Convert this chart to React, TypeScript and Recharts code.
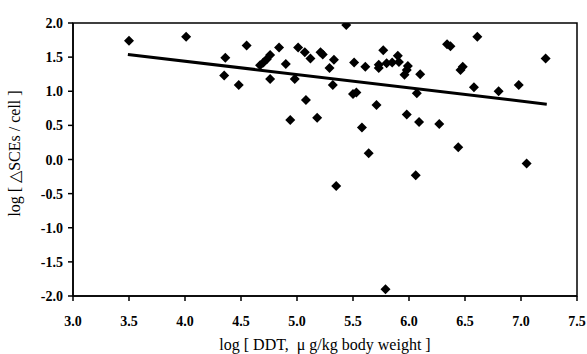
import {
  ScatterChart,
  Scatter,
  XAxis,
  YAxis,
  ReferenceLine,
  ReferenceArea,
  Label,
} from "recharts"

// log DDT (x) vs log delta SCEs per cell (y)
const ddtLog = [
  3.5, 4.01, 4.35, 4.36, 4.48, 4.55, 4.67, 4.7, 4.73, 4.76, 4.76, 4.84, 4.9, 4.94, 4.98, 5.01,
  5.07, 5.08, 5.12, 5.18, 5.21, 5.23, 5.29, 5.32, 5.33, 5.35, 5.44, 5.5, 5.53, 5.51, 5.58,
  5.61, 5.64, 5.71, 5.73, 5.73, 5.77, 5.79, 5.8, 5.85, 5.9, 5.91, 5.96, 5.98, 5.99, 5.98,
  6.06, 6.07, 6.09, 6.1, 6.27, 6.34, 6.37, 6.44, 6.46, 6.48, 6.58, 6.61, 6.8, 6.98, 7.05,
  7.22,
]
const sceLog = [
  1.74, 1.8, 1.23, 1.49, 1.09, 1.67, 1.38, 1.42, 1.47, 1.53, 1.18, 1.64, 1.4, 0.58, 1.18, 1.64,
  1.57, 0.87, 1.48, 0.61, 1.57, 1.54, 1.34, 1.09, 1.46, -0.39, 1.97, 0.96, 0.98, 1.42, 0.47,
  1.36, 0.09, 0.8, 1.39, 1.34, 1.6, -1.9, 1.41, 1.42, 1.52, 1.43, 1.24, 1.31, 1.37, 0.66,
  -0.23, 0.97, 0.55, 1.25, 0.52, 1.69, 1.66, 0.18, 1.31, 1.36, 1.06, 1.8, 1.0, 1.09, -0.06,
  1.48,
]

// fitted regression line ends
const fitX = [3.49, 7.23]
const fitY = [1.54, 0.81]

const xTicks = [3, 3.5, 4, 4.5, 5, 5.5, 6, 6.5, 7, 7.5]
const yTicks = [-2, -1.5, -1, -0.5, 0, 0.5, 1, 1.5, 2]

const points = ddtLog.map((x, i) => ({ x, y: sceLog[i] }))

const FONT = "Liberation Serif"

function Diamond(props: any) {
  const { cx, cy } = props
  if (cx == null || cy == null) return null
  const r = 5
  return (
    <polygon
      points={`${cx},${cy - r} ${cx + r},${cy} ${cx},${cy + r} ${cx - r},${cy}`}
      fill="#000"
    />
  )
}

function XTick({ x, y, payload }: any) {
  return (
    <text
      x={x}
      y={y + 13}
      textAnchor="middle"
      fontFamily={FONT}
      fontSize={14}
      fontWeight="bold"
      fill="#000"
    >
      {Number(payload.value).toFixed(1)}
    </text>
  )
}

function YTick({ x, y, payload }: any) {
  return (
    <text
      x={x}
      y={y + 5}
      textAnchor="end"
      fontFamily={FONT}
      fontSize={14}
      fontWeight="bold"
      fill="#000"
    >
      {Number(payload.value).toFixed(1)}
    </text>
  )
}

export default function App() {
  return (
    <div style={{ position: "absolute", left: 0, top: 0, width: 587, height: 354, background: "#fff", fontFamily: FONT }}>
      <ScatterChart
        width={587}
        height={354}
        margin={{ top: 23, right: 10, left: 0, bottom: 0 }}
        style={{ fontFamily: FONT }}
      >
        <XAxis
          type="number"
          dataKey="x"
          domain={[3, 7.5]}
          ticks={xTicks}
          tick={(p: any) => <XTick {...p} />}
          tickSize={5}
          tickMargin={12}
          height={58}
          stroke="#000"
          strokeWidth={1.5}
          allowDataOverflow
        >
          <Label
            value={"log [ DDT,\u00a0\u00a0μ g/kg body weight ]"}
            position="insideBottom"
            offset={4}
            style={{ fontSize: 16, fill: "#000", fontFamily: FONT }}
          />
        </XAxis>
        <YAxis
          type="number"
          dataKey="y"
          domain={[-2, 2]}
          ticks={yTicks}
          tick={(p: any) => <YTick {...p} />}
          tickSize={5}
          tickMargin={5}
          width={73}
          stroke="#000"
          strokeWidth={1.5}
          allowDataOverflow
        >
          <Label
            value="log [ △SCEs / cell ]"
            angle={-90}
            position="insideLeft"
            offset={14}
            dy={-6}
            style={{ fontSize: 16, fill: "#000", fontFamily: FONT, textAnchor: "middle" }}
          />
        </YAxis>
        <ReferenceArea
          x1={3}
          x2={7.5}
          y1={-2}
          y2={2}
          fill="none"
          stroke="#000"
          strokeWidth={1.5}
          ifOverflow="extendDomain"
        />
        <ReferenceLine
          segment={[
            { x: fitX[0], y: fitY[0] },
            { x: fitX[1], y: fitY[1] },
          ]}
          stroke="#000"
          strokeWidth={3}
        />
        <Scatter data={points} shape={<Diamond />} isAnimationActive={false} />
      </ScatterChart>
    </div>
  )
}
